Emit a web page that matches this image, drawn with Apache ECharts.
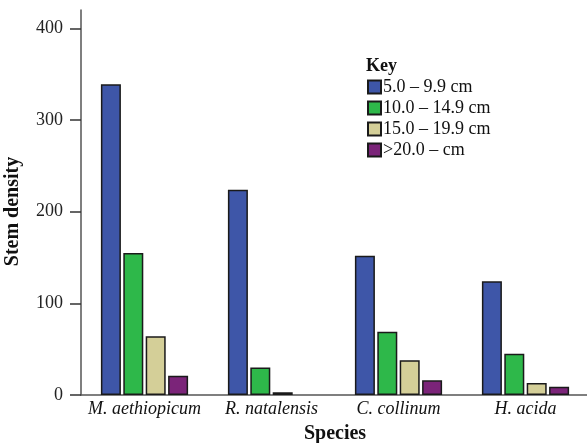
<!DOCTYPE html>
<html>
<head>
<meta charset="utf-8">
<script src="https://cdn.jsdelivr.net/npm/echarts@6/dist/echarts.min.js"></script>
<style>html,body{margin:0;padding:0;background:#fff}#c{width:587px;height:443px}</style>
</head>
<body>
<div id="c"></div>
<script>
const categories = ['M. aethiopicum', 'R. natalensis', 'C. collinum', 'H. acida'];
const seriesNames = ['5.0 – 9.9 cm', '10.0 – 14.9 cm', '15.0 – 19.9 cm', '>20.0 – cm'];
const s1 = [339, 224, 152, 124];
const s2 = [155, 30, 69, 45];
const s3 = [64, 3, 38, 13];
const s4 = [21, null, 16, 9];
const yTicks = [0, 100, 200, 300, 400];
const colors = ['#3E56A8', '#2EB84A', '#D4CF98', '#7B2479'];

const serif = '"Liberation Serif", "DejaVu Serif", serif';
const data = [s1, s2, s3, s4];
const chart = echarts.init(document.getElementById('c'));
chart.setOption({
  animation: false,
  title: {
    text: 'Key', left: 361, top: 52,
    textStyle: {fontFamily: serif, fontWeight: 'bold', fontSize: 18, color: '#111'}
  },
  legend: {
    orient: 'vertical', left: 362, top: 73,
    itemWidth: 13, itemHeight: 13, itemGap: 3,
    icon: 'rect',
    textStyle: {fontFamily: serif, fontSize: 18, color: '#111', padding: [0, 0, 0, -3]},
    data: seriesNames
  },
  grid: {left: 81, top: 10, width: 508, bottom: 48, containLabel: false, outerBoundsMode: 'none'},
  xAxis: {
    type: 'category', data: categories,
    name: 'Species', nameLocation: 'middle', nameGap: 29,
    nameTextStyle: {fontFamily: serif, fontWeight: 'bold', fontSize: 20, color: '#111'},
    axisLine: {lineStyle: {color: '#555', width: 1.5}},
    axisTick: {show: false},
    axisLabel: {interval: 0, fontFamily: serif, fontStyle: 'italic', fontSize: 18, color: '#111', margin: 5}
  },
  yAxis: {
    type: 'value', min: 0, max: 420, interval: 100,
    name: 'Stem density', nameLocation: 'middle', nameGap: 58,
    nameTextStyle: {fontFamily: serif, fontWeight: 'bold', fontSize: 20, color: '#111', padding: [0, 18, 0, 0]},
    axisLine: {show: true, lineStyle: {color: '#555', width: 1.5}},
    axisTick: {show: true, inside: false, length: 11, lineStyle: {color: '#333', width: 1.5}, customValues: yTicks},
    axisLabel: {fontFamily: serif, fontSize: 18, color: '#222', margin: 18, customValues: yTicks},
    splitLine: {show: false}
  },
  series: data.map((d, i) => ({
    name: seriesNames[i], type: 'bar', data: d,
    barWidth: 20, barGap: '12%',
    itemStyle: {color: colors[i], borderColor: '#1a1a1a', borderWidth: 1.5}
  }))
});
</script>
</body>
</html>
